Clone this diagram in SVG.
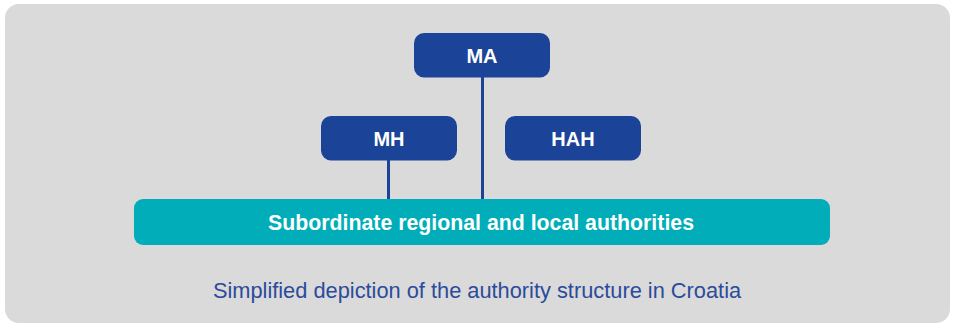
<svg xmlns="http://www.w3.org/2000/svg" width="956" height="325" viewBox="0 0 956 325">
<style>
.box{fill:#1b4397}
.lbl{font-family:"Liberation Sans",Arial,sans-serif;font-weight:bold;font-size:20px;fill:#ffffff;text-anchor:middle}
.conn{stroke:#1b4397;stroke-width:3;fill:none}
</style>
<rect x="5" y="4" width="945" height="319" rx="14" fill="#dadada"/>
<g id="connectors">
<line class="conn" x1="482.5" y1="77" x2="482.5" y2="200"/>
<line class="conn" x1="388.5" y1="160" x2="388.5" y2="200"/>
</g>
<g id="MA">
<rect class="box" x="414" y="33" width="136" height="44.5" rx="10"/>
<text class="lbl" x="482" y="62.5">MA</text>
</g>
<g id="MH">
<rect class="box" x="321" y="116" width="136" height="44.5" rx="10"/>
<text class="lbl" x="389" y="145.5">MH</text>
</g>
<g id="HAH">
<rect class="box" x="505" y="116" width="136" height="44.5" rx="10"/>
<text class="lbl" x="573" y="145.5">HAH</text>
</g>
<g id="subordinate">
<rect x="134" y="199" width="696" height="46" rx="9" fill="#00adb9"/>
<text class="lbl" x="481" y="229.5" style="font-size:21.3px">Subordinate regional and local authorities</text>
</g>
<text x="477" y="297.5" font-family="'Liberation Sans',Arial,sans-serif" font-size="21.8" fill="#2b4b9b" text-anchor="middle">Simplified depiction of the authority structure in Croatia</text>
</svg>
